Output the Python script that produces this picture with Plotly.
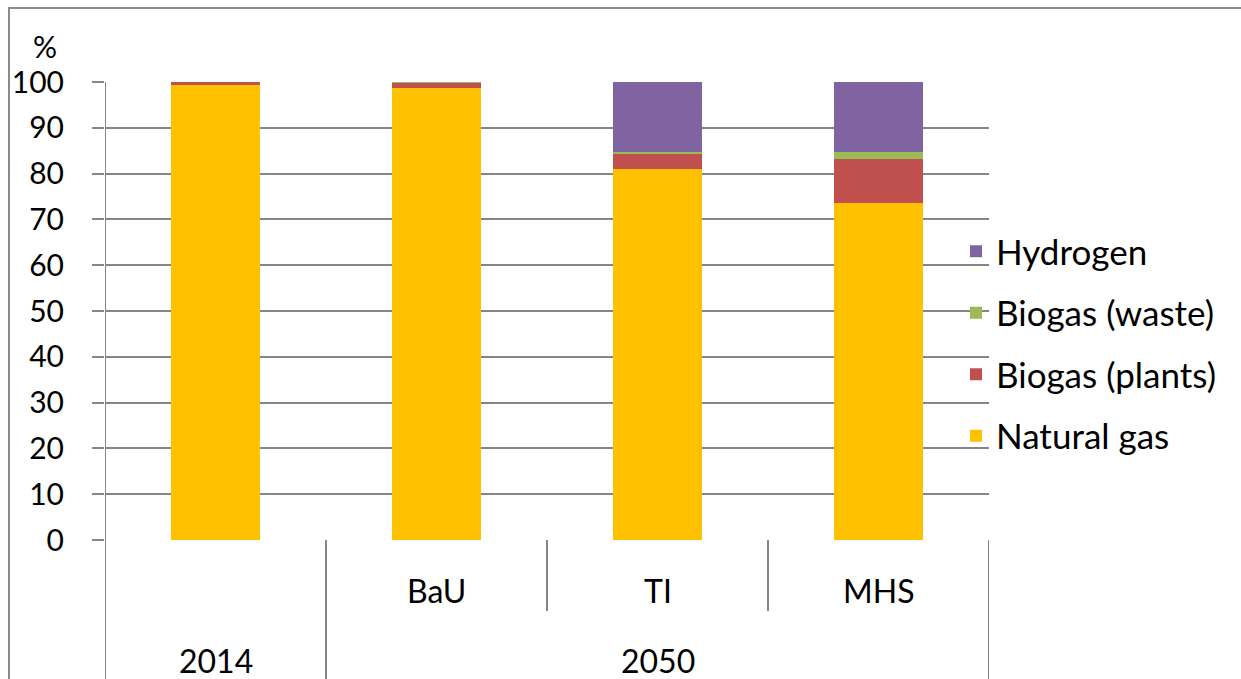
import plotly.graph_objects as go

# ---- data ----
categories = ["2014", "BaU", "TI", "MHS"]
sub_labels = ["", "BaU", "TI", "MHS"]
group_labels = ["2014", "2050"]
group_centers = [0, 2]          # category index at which each group label is centred
series_names = ["Natural gas", "Biogas (plants)", "Biogas (waste)", "Hydrogen"]
natural_gas = [99.3, 98.6, 80.9, 73.5]
biogas_plants = [0.7, 1.2, 3.4, 9.7]
biogas_waste = [0.0, 0.2, 0.4, 1.5]
hydrogen = [0.0, 0.0, 15.3, 15.3]
series_values = [natural_gas, biogas_plants, biogas_waste, hydrogen]
series_colors = ["#FFC000", "#C0504D", "#9BBB59", "#8064A2"]
y_ticks = [0, 10, 20, 30, 40, 50, 60, 70, 80, 90, 100]

FONT = "Lato"
FS = 30
FS_CAT = 32
FS_LEG = 35
GRID = "#868686"

fig = go.Figure()
for k, (name, vals, col) in enumerate(zip(series_names, series_values, series_colors)):
    fig.add_trace(go.Bar(
        x=list(range(len(categories))), y=vals, name=name,
        marker=dict(color=col, line=dict(width=0)),
        legendgroup=name, legendrank=1000 - k,
    ))

# plot area: x 105..989, y 82..540  (px)
L, R, T, B = 105, 1241 - 989, 82, 679 - 540
W, H = 1241 - L - R, 679 - T - B

def px_x(p):
    return (p - L) / W

def px_y(p):
    return (679 - B - p) / H

shapes = []
# outer chart border
shapes.append(dict(type="rect", xref="paper", yref="paper",
                   x0=px_x(9), x1=px_x(1300), y0=px_y(8), y1=px_y(760),
                   line=dict(color="#8C8C8C", width=2), fillcolor="rgba(0,0,0,0)", layer="below"))
# vertical axis line extending through the category label area
shapes.append(dict(type="line", xref="x", yref="paper", x0=-0.5, x1=-0.5,
                   y0=1, y1=px_y(690), line=dict(color=GRID, width=2)))
# category dividers
n = len(categories)
for i in range(n):
    xb = i + 0.5
    if i == 0 or i == n - 1:
        y1 = px_y(690)
    else:
        y1 = px_y(611)
    shapes.append(dict(type="line", xref="x", yref="paper", x0=xb, x1=xb,
                       y0=0, y1=y1, line=dict(color=GRID, width=2)))

annotations = []
for i, lab in enumerate(sub_labels):
    if lab:
        annotations.append(dict(x=i, y=px_y(590), xref="x", yref="paper", text=lab,
                                showarrow=False, font=dict(family=FONT, size=FS_CAT, color="black"),
                                xanchor="center", yanchor="middle"))
for c, lab in zip(group_centers, group_labels):
    annotations.append(dict(x=c, y=px_y(660), xref="x", yref="paper", text=lab,
                            showarrow=False, font=dict(family=FONT, size=FS_CAT, color="black"),
                            xanchor="center", yanchor="middle"))
annotations.append(dict(x=px_x(45), y=px_y(46), xref="paper", yref="paper", text="%",
                        showarrow=False, font=dict(family=FONT, size=FS, color="black"),
                        xanchor="center", yanchor="middle"))

fig.update_layout(
    width=1241, height=679,
    margin=dict(l=L, r=R, t=T, b=B, pad=0),
    paper_bgcolor="white", plot_bgcolor="white",
    barmode="stack", bargap=0.6,
    font=dict(family=FONT, size=FS, color="black"),
    showlegend=True,
    legend=dict(x=px_x(956), y=px_y(222), xanchor="left", yanchor="top",
                traceorder="grouped", tracegroupgap=13,
                font=dict(family=FONT, size=FS_LEG, color="black"),
                bgcolor="rgba(0,0,0,0)"),
    xaxis=dict(range=[-0.5, n - 0.5], showticklabels=False, showgrid=False,
               zeroline=False, showline=False, ticks="", fixedrange=True),
    yaxis=dict(range=[0, 100], tickvals=y_ticks, showgrid=True, gridcolor=GRID, gridwidth=2,
               zeroline=False, showline=False, ticks="outside", ticklen=12, tickwidth=2,
               tickcolor=GRID, ticklabelstandoff=22,
               tickfont=dict(family=FONT, size=FS, color="black")),
    shapes=shapes, annotations=annotations,
)

fig.write_html("out.html")
